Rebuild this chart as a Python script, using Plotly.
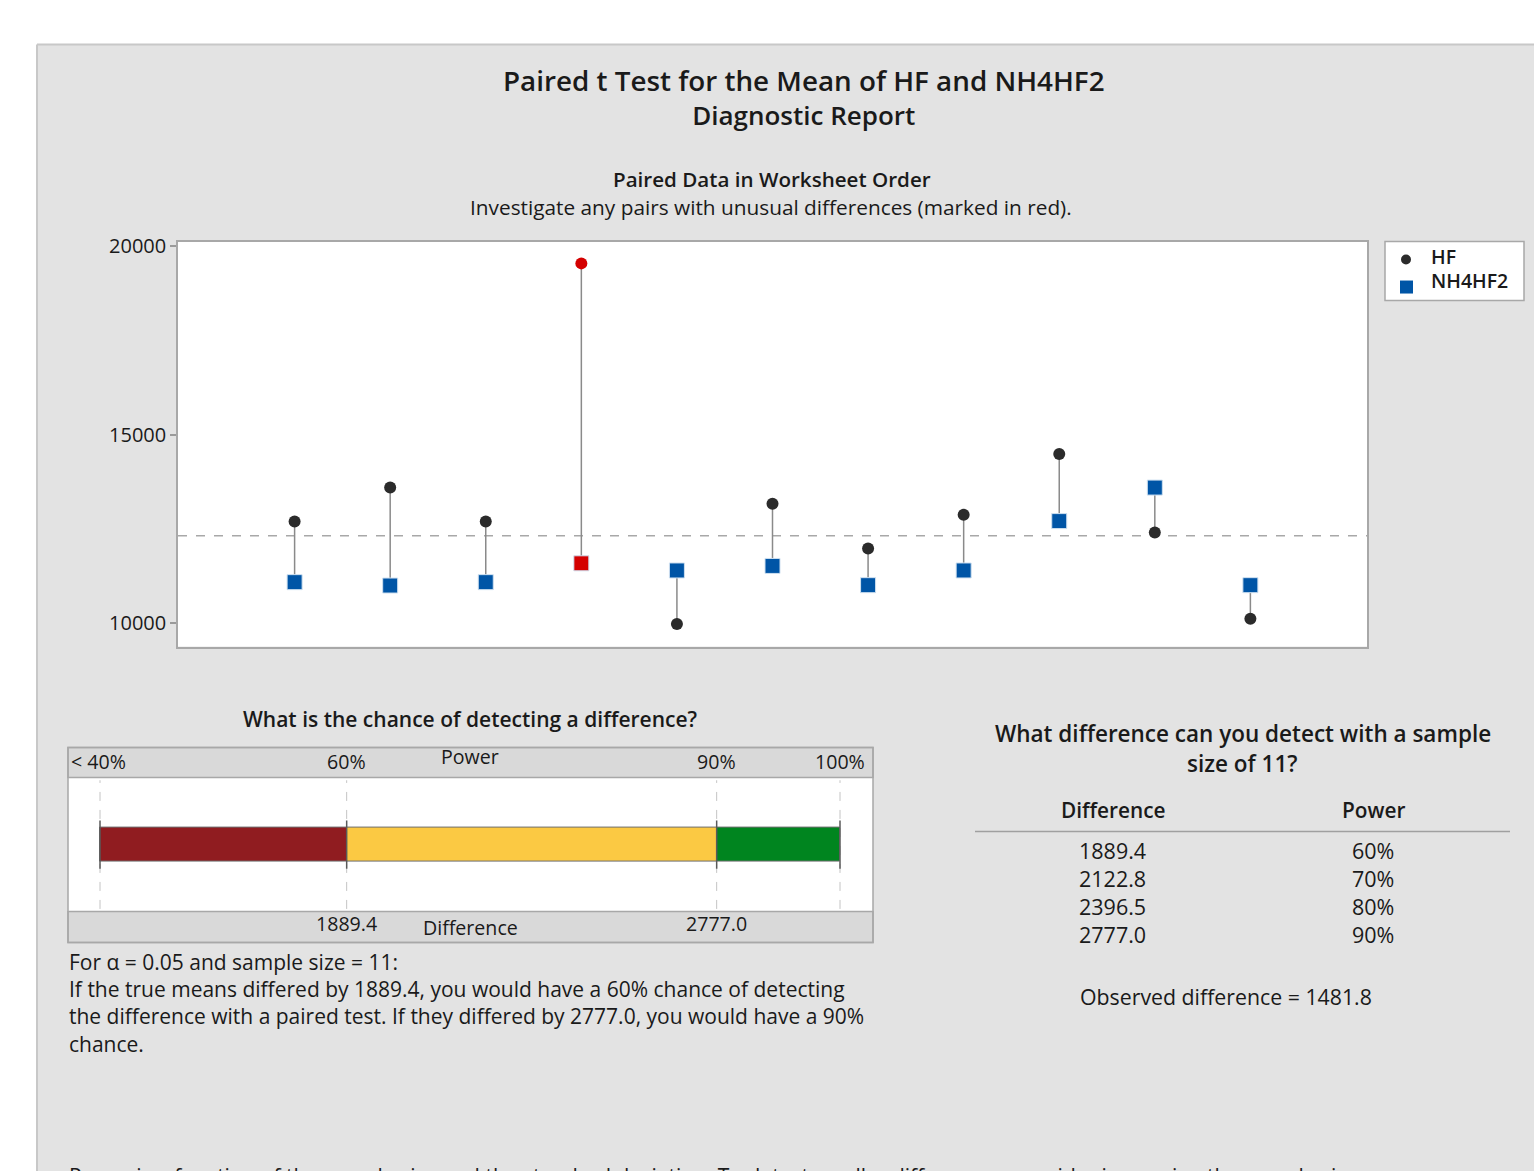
import plotly.graph_objects as go

# ---- data -------------------------------------------------------------
observation = list(range(1, 12))
hf_values = [12700, 13600, 12700, 19550, 9980, 13170, 11980, 12880, 14490, 12410, 10120]
nh4hf2_values = [11090, 11000, 11090, 11590, 11400, 11520, 11010, 11400, 12710, 13600, 11010]
unusual_pair = [False, False, False, True, False, False, False, False, False, False, False]

y_ticks = [10000, 15000, 20000]
series_names = ["HF", "NH4HF2"]

power_levels = [60, 70, 80, 90]
detectable_diff = [1889.4, 2122.8, 2396.5, 2777.0]
power_scale_ticks = [40, 60, 90, 100]
power_scale_labels = ["< 40%", "60%", "90%", "100%"]
power_bands = [(40, 60), (60, 90), (90, 100)]
power_band_colors = ["#901c20", "#fbc943", "#00851f"]

alpha = 0.05
sample_size = 11
observed_difference = 1481.8

# ---- page geometry ----------------------------------------------------
W, H = 1534, 1171
FONT = "Open Sans"
TEXT = "#1a1a1a"
PANEL = "#e3e3e3"
FRAME = "#a8a8a8"
HF_COLOR = "#2b2b2b"
NH_COLOR = "#0055a6"
RED = "#d40000"
DY = -2  # nudge for text baselines


def px(x):
    return x / W


def py(y):
    # page row -> paper fraction (with a small vertical calibration)
    return 1 - ((y - 8.5) / 0.9922) / H


fig = go.Figure()

# connectors between the two members of each pair
cx, cy = [], []
for i, a, b in zip(observation, hf_values, nh4hf2_values):
    cx += [i, i, None]
    cy += [a, b, None]
fig.add_trace(go.Scatter(x=cx, y=cy, mode="lines", line=dict(color="#8a8a8a", width=1.5),
                         showlegend=False, hoverinfo="skip"))

fig.add_trace(go.Scatter(
    x=observation, y=hf_values, mode="markers", name=series_names[0], showlegend=False,
    marker=dict(symbol="circle", size=12,
                color=[RED if u else HF_COLOR for u in unusual_pair], line=dict(width=0)),
))
fig.add_trace(go.Scatter(
    x=observation, y=nh4hf2_values, mode="markers", name=series_names[1], showlegend=False,
    marker=dict(symbol="square", size=15,
                color=[RED if u else NH_COLOR for u in unusual_pair],
                line=dict(width=1, color="#cfe0f0")),
))

# power scale bar (second subplot)
for (lo, hi), col in zip(power_bands, power_band_colors):
    fig.add_trace(go.Bar(
        x=[hi - lo], base=[lo], y=[0.5], orientation="h", width=0.25,
        marker=dict(color=col, line=dict(color="#6e6e6e", width=1)),
        xaxis="x2", yaxis="y2", showlegend=False, hoverinfo="skip",
    ))

shapes = []
# white margin strips around the report panel
shapes.append(dict(type="rect", xref="paper", yref="paper", x0=-0.01, x1=px(37), y0=-0.01, y1=1.01,
                   fillcolor="white", line=dict(width=0), layer="below"))
shapes.append(dict(type="rect", xref="paper", yref="paper", x0=-0.01, x1=1.01, y0=py(44), y1=1.01,
                   fillcolor="white", line=dict(width=0), layer="below"))
shapes.append(dict(type="line", xref="paper", yref="paper", x0=px(37), x1=1.01, y0=py(44), y1=py(44),
                   line=dict(color="#c8c8c8", width=2), layer="below"))
shapes.append(dict(type="line", xref="paper", yref="paper", x0=px(37), x1=px(37), y0=-0.01, y1=py(44),
                   line=dict(color="#c8c8c8", width=2), layer="below"))
# mean reference line
all_vals = hf_values + nh4hf2_values
grand_mean = sum(all_vals) / len(all_vals)
shapes.append(dict(type="line", xref="x domain", yref="y", x0=0, x1=1, y0=grand_mean, y1=grand_mean,
                   line=dict(color="#a8a8a8", width=1.5, dash="dash"), layer="below"))

# legend box with symbols
lg_l, lg_r, lg_t, lg_b = 1385, 1524, 241, 300
shapes.append(dict(type="rect", xref="paper", yref="paper", x0=px(lg_l), x1=px(lg_r), y0=py(lg_b), y1=py(lg_t),
                   fillcolor="white", line=dict(color=FRAME, width=1.5)))
shapes.append(dict(type="circle", xref="paper", yref="paper", x0=px(1401), x1=px(1411), y0=py(264), y1=py(254),
                   fillcolor=HF_COLOR, line=dict(width=0)))
shapes.append(dict(type="rect", xref="paper", yref="paper", x0=px(1400), x1=px(1413), y0=py(293), y1=py(280),
                   fillcolor=NH_COLOR, line=dict(width=0)))

# power box bands and frame
box_l, box_r, box_t, box_b = 68, 873, 747, 942
band_top, band_bot = 777, 911
for y0, y1 in [(box_t, band_top), (band_bot, box_b)]:
    shapes.append(dict(type="rect", xref="paper", yref="paper", x0=px(box_l), x1=px(box_r),
                       y0=py(y1), y1=py(y0), fillcolor="#d9d9d9", line=dict(color=FRAME, width=1.5)))
shapes.append(dict(type="rect", xref="paper", yref="paper", x0=px(box_l), x1=px(box_r),
                   y0=py(box_b), y1=py(box_t), line=dict(color=FRAME, width=1.5)))
for t in power_scale_ticks:
    shapes.append(dict(type="line", xref="x2", yref="y2 domain", x0=t, x1=t, y0=0.02, y1=0.98,
                       line=dict(color="#c4c4c4", width=1, dash="dash"), layer="below"))
    shapes.append(dict(type="line", xref="x2", yref="y2 domain", x0=t, x1=t, y0=0.32, y1=0.68,
                       line=dict(color="#5a5a5a", width=1.5), layer="above"))

# table rule
shapes.append(dict(type="line", xref="paper", yref="paper", x0=px(975), x1=px(1510), y0=py(831), y1=py(831),
                   line=dict(color="#a0a0a0", width=1.5)))

ann = []


def text(x, y, s, size=21, anchor="center", weight=400, xref="paper", **kw):
    ann.append(dict(x=x if xref != "paper" else px(x), y=py(y + DY), xref=xref, yref="paper", text=s,
                    showarrow=False, xanchor=anchor, yanchor="middle",
                    font=dict(family=FONT, size=size, color=TEXT, weight=weight), **kw))


text(804, 98, '<span style="font-size:27.8px">Paired t Test for the Mean of HF and NH4HF2</span>'
              '<br>Diagnostic Report', size=26, weight=600)
text(772, 180, "Paired Data in Worksheet Order", size=20.6, weight=600)
text(771, 208, "Investigate any pairs with unusual differences (marked in red).", size=20.8)

# legend labels
text(1429, 258, series_names[0], size=19.5, anchor="left", weight=600)
text(1429, 282, series_names[1], size=19.5, anchor="left", weight=600)

text(470, 720, "What is the chance of detecting a difference?", size=21, weight=600)

# power scale labels
for t, lab in zip(power_scale_ticks, power_scale_labels):
    if t == power_scale_ticks[0]:
        ann.append(dict(x=0, y=py(763 + DY), xref="x2 domain", yref="paper", text=lab, showarrow=False,
                        xanchor="left", yanchor="middle", xshift=1,
                        font=dict(family=FONT, size=19.6, color=TEXT)))
    else:
        text(t, 763, lab, size=19.6, xref="x2")
text(70, 758, "Power", size=19.6, xref="x2")
text(70, 929, "Difference", size=19.6, xref="x2")
for p, d in zip(power_levels, detectable_diff):
    if p in (power_scale_ticks[1], power_scale_ticks[2]):
        text(p, 925, f"{d:.1f}", size=19.6, xref="x2")

lines = [
    f"For α = {alpha} and sample size = {sample_size}:",
    f"If the true means differed by {detectable_diff[0]}, you would have a {power_levels[0]}% chance of detecting",
    f"the difference with a paired test. If they differed by {detectable_diff[-1]:.1f}, you would have a {power_levels[-1]}%",
    "chance.",
]
for k, s in enumerate(lines):
    text(67, 963 + k * 27.3, s, size=21, anchor="left")

text(1243, 735, "What difference can you detect with a sample", size=22.5, weight=600)
text(1242, 765, f"size of {sample_size}?", size=22.5, weight=600)
text(1113, 811, "Difference", size=20.8, weight=600)
text(1373, 811, "Power", size=20.8, weight=600)
for k, (d, p) in enumerate(zip(detectable_diff, power_levels)):
    yy = 852 + k * 27.8
    text(1112, yy, f"{d:.1f}", size=21.5)
    text(1373, yy, f"{p}%", size=21.5)
text(1226, 998, f"Observed difference = {observed_difference}", size=21.3)

text(67, 1177, "Power is a function of the sample size and the standard deviation. To detect smaller "
               "differences, consider increasing the sample size.", size=21, anchor="left")

fig.update_layout(
    width=W, height=H, margin=dict(l=0, r=0, t=0, b=0),
    paper_bgcolor=PANEL, plot_bgcolor="white",
    font=dict(family=FONT, color=TEXT),
    shapes=shapes, annotations=ann, showlegend=False,
    bargap=0, barmode="overlay",
    xaxis=dict(domain=[px(178), px(1367)], range=[-0.22, 12.22], showticklabels=False, ticks="",
               showgrid=False, zeroline=False, showline=True, mirror=True, linecolor=FRAME, linewidth=1.5),
    yaxis=dict(domain=[py(646), py(241)], range=[9380, 20130], tickvals=y_ticks, tickformat="d",
               ticks="outside", ticklen=6, tickcolor="#9a9a9a", tickwidth=1.5,
               tickfont=dict(family=FONT, size=20, color=TEXT),
               showgrid=False, zeroline=False, showline=True, mirror=True, linecolor=FRAME, linewidth=1.5),
    xaxis2=dict(domain=[px(box_l), px(box_r)], range=[37.405, 102.676], visible=False, anchor="y2"),
    yaxis2=dict(domain=[py(band_bot), py(band_top)], range=[0, 1], visible=False, anchor="x2"),
)

fig.write_html("out.html")
